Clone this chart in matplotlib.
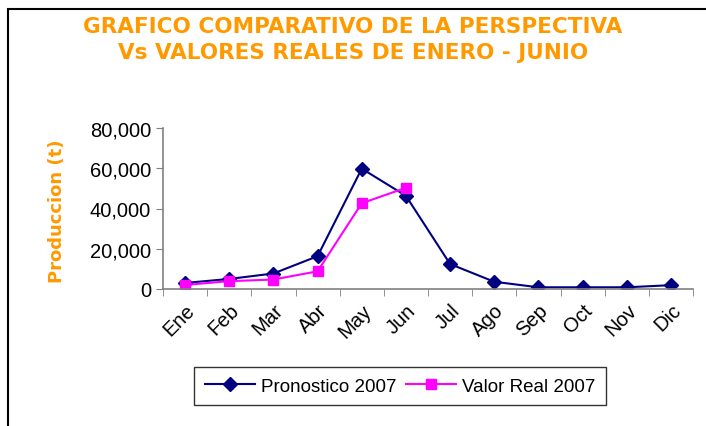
import numpy as np
import matplotlib.pyplot as plt
from matplotlib.patches import Rectangle

meses = ["Ene", "Feb", "Mar", "Abr", "May", "Jun", "Jul", "Ago", "Sep", "Oct", "Nov", "Dic"]
pronostico = [3000, 5000, 7700, 16300, 59800, 46300, 12400, 3600, 850, 850, 850, 1900]
real_meses = ["Ene", "Feb", "Mar", "Abr", "May", "Jun"]
valor_real = [2000, 3900, 4700, 8800, 42600, 50300]

naranja = "#FF9900"

plt.rcParams["font.family"] = ["Liberation Sans", "DejaVu Sans"]

fig = plt.figure(figsize=(7.06, 4.27), dpi=100)

# marco del grafico
fig.patches.append(Rectangle((8 / 706, -0.1), 1.2, 1 - 10 / 427 + 0.1, transform=fig.transFigure,
                             fill=False, edgecolor="black", linewidth=1.5))

ax = fig.add_axes([163 / 706, 1 - 290 / 427, (693 - 163) / 706, (290 - 129) / 427])

x = np.arange(len(meses))
ax.plot(x, pronostico, color="#000080", marker="D", markersize=7, linewidth=1.5,
        label="Pronostico 2007")
ax.plot(x[:len(real_meses)], valor_real, color="#FF00FF", marker="s", markersize=7.5,
        linewidth=1.5, label="Valor Real 2007")

ax.set_xlim(-0.5, len(meses) - 0.5)
ax.set_ylim(0, 80000)
ax.set_yticks(np.arange(0, 80001, 20000))
ax.set_yticklabels([f"{v:,}" for v in range(0, 80001, 20000)], fontsize=14.5)

ax.set_xticks(x)
ax.set_xticklabels(meses, rotation=45, ha="right", rotation_mode="anchor", fontsize=14.5)
ax.set_xticks(np.arange(-0.5, len(meses)), minor=True)
ax.tick_params(axis="x", which="major", length=0, pad=8)
ax.tick_params(axis="x", which="minor", length=5, color="#808080")
ax.tick_params(axis="y", length=5, color="#808080")

for s in ["top", "right"]:
    ax.spines[s].set_visible(False)
ax.spines["left"].set_color("#808080")
ax.spines["bottom"].set_color("#808080")
ax.spines["left"].set_linewidth(1.2)
ax.spines["bottom"].set_linewidth(1.2)

ax.set_ylabel("Produccion (t)", color=naranja, fontsize=13, fontweight="bold",
              family="DejaVu Sans")
ax.yaxis.set_label_coords(-0.183, 0.49)

fig.text(0.5, 1 - 40 / 427, "GRAFICO COMPARATIVO DE LA PERSPECTIVA\nVs VALORES REALES DE ENERO - JUNIO",
         ha="center", va="center", color=naranja, fontsize=15.5, fontweight="bold",
         family="DejaVu Sans", linespacing=1.35)

leg = ax.legend(loc="center", bbox_to_anchor=(400 / 706, 1 - 387 / 427), bbox_transform=fig.transFigure,
                ncol=2, fontsize=13.5, frameon=True, fancybox=False, handlelength=2.7,
                columnspacing=0.5, handletextpad=0.3, borderpad=0.55)
leg.get_frame().set_edgecolor("black")
leg.get_frame().set_linewidth(1)

fig.savefig("out.png", dpi=100)
